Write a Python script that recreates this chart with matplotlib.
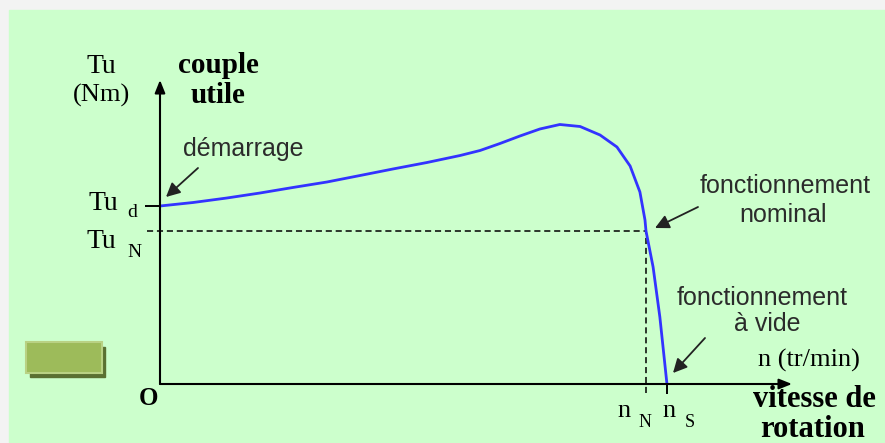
import matplotlib.pyplot as plt
from matplotlib.patches import Rectangle

# torque / speed characteristic (n in tr/min, Tu in Nm)
speed = [0, 98, 198, 296, 393, 494, 592, 689, 790, 888, 947, 1006, 1065,
         1124, 1183, 1243, 1302, 1352, 1391, 1420, 1435, 1438, 1459, 1479, 1500]
torque = [17.8, 18.15, 18.6, 19.1, 19.65, 20.2, 20.85, 21.5, 22.15, 22.85, 23.35,
          24.05, 24.8, 25.5, 25.95, 25.75, 24.9, 23.7, 21.8, 19.2, 16.4, 15.3,
          11.7, 6.7, 0.0]
n_N = 1438
n_S = 1500
Tu_d = 17.8
Tu_N = 15.3
x_max = 1870
y_max = 30.4

serif = 'Liberation Serif'
sans = 'Liberation Sans'
txt_gray = '#2b2b2b'

fig = plt.figure(figsize=(8.85, 4.43), dpi=100)
fig.patch.set_facecolor('#f3f3f3')

# overlay in pixel units for background, labels and the button
ov = fig.add_axes([0, 0, 1, 1], zorder=0)
ov.set_xlim(0, 885)
ov.set_ylim(443, 0)
ov.axis('off')
ov.add_patch(Rectangle((9, 10), 880, 440, color='#ccffcc', zorder=0))

# green button with shadow
ov.add_patch(Rectangle((30, 347), 75, 30, color='#5a7032', zorder=1))
ov.add_patch(Rectangle((26, 342), 76, 31, facecolor='#9dbb5a',
                       edgecolor='#b9d184', lw=1.5, zorder=2))

# curve axes
ax = fig.add_axes([160 / 885, 59 / 443, 632 / 885, 304 / 443], zorder=2)
ax.patch.set_alpha(0)
ax.set_xlim(0, x_max)
ax.set_ylim(0, y_max)
for s in ax.spines.values():
    s.set_visible(False)

ax.plot(speed, torque, color='#3333ff', lw=2.0, solid_capstyle='round',
        solid_joinstyle='round', zorder=3)
ax.plot([-37, n_N], [Tu_N, Tu_N], color='black', lw=1.1, ls=(0, (4, 2.5)),
        clip_on=False)
ax.plot([n_N, n_N], [-0.9, Tu_N], color='black', lw=1.1, ls=(0, (4, 2.5)),
        clip_on=False)

ax.set_xticks([n_S])
ax.set_yticks([Tu_d])
ax.tick_params(axis='x', direction='out', length=7, width=1.4, labelbottom=False)
ax.tick_params(axis='y', direction='out', length=11, width=1.4, labelleft=False)

ax.annotate('', xy=(0, 1), xytext=(0, 0), xycoords='axes fraction',
            arrowprops=dict(arrowstyle='-|>,head_length=0.55,head_width=0.22',
                            mutation_scale=14, color='black', lw=1.5,
                            shrinkA=0, shrinkB=0))
ax.annotate('', xy=(1, 0), xytext=(0, 0), xycoords='axes fraction',
            arrowprops=dict(arrowstyle='-|>,head_length=0.55,head_width=0.22',
                            mutation_scale=14, color='black', lw=1.5,
                            shrinkA=0, shrinkB=0))

# annotation arrows
arrow = dict(arrowstyle='-|>,head_length=0.6,head_width=0.3', mutation_scale=14,
             color='#222222', lw=1.3, shrinkA=0, shrinkB=0)
ov.annotate('', xy=(166, 197), xytext=(198, 168), arrowprops=arrow)
ov.annotate('', xy=(655, 228), xytext=(698, 207), arrowprops=arrow)
ov.annotate('', xy=(673, 373), xytext=(705, 338), arrowprops=arrow)

# serif labels
ov.text(101, 73, 'Tu', family=serif, fontsize=20, ha='center', va='baseline')
ov.text(101, 102, '(Nm)', family=serif, fontsize=19, ha='center', va='baseline')
ov.text(218, 73, 'couple', family=serif, fontsize=21, weight='bold',
        ha='center', va='baseline')
ov.text(218, 103, 'utile', family=serif, fontsize=21, weight='bold',
        ha='center', va='baseline')
ov.text(103, 210, 'Tu', family=serif, fontsize=20, ha='center', va='baseline')
ov.text(132, 217, 'd', family=serif, fontsize=14, ha='center', va='baseline')
ov.text(101, 248, 'Tu', family=serif, fontsize=20, ha='center', va='baseline')
ov.text(134, 257, 'N', family=serif, fontsize=14, ha='center', va='baseline')
ov.text(148, 405, 'O', family=serif, fontsize=18, weight='bold', ha='center',
        va='baseline')
ov.text(624, 417, 'n', family=serif, fontsize=19, ha='center', va='baseline')
ov.text(645, 427, 'N', family=serif, fontsize=13, ha='center', va='baseline')
ov.text(669, 417, 'n', family=serif, fontsize=19, ha='center', va='baseline')
ov.text(690, 427, 'S', family=serif, fontsize=13, ha='center', va='baseline')
ov.text(809, 367, 'n (tr/min)', family=serif, fontsize=19, ha='center',
        va='baseline')
ov.text(814, 407, 'vitesse de', family=serif, fontsize=22, weight='bold',
        ha='center', va='baseline')
ov.text(813, 437, 'rotation', family=serif, fontsize=22, weight='bold',
        ha='center', va='baseline')

# sans labels
ov.text(243, 156, 'démarrage', family=sans, fontsize=18, color=txt_gray,
        ha='center', va='baseline')
ov.text(785, 193, 'fonctionnement', family=sans, fontsize=18, color=txt_gray,
        ha='center', va='baseline')
ov.text(783, 222, 'nominal', family=sans, fontsize=18, color=txt_gray,
        ha='center', va='baseline')
ov.text(762, 305, 'fonctionnement', family=sans, fontsize=18, color=txt_gray,
        ha='center', va='baseline')
ov.text(767, 331, 'à vide', family=sans, fontsize=18, color=txt_gray,
        ha='center', va='baseline')

plt.savefig('out.png', dpi=100, facecolor=fig.get_facecolor())
